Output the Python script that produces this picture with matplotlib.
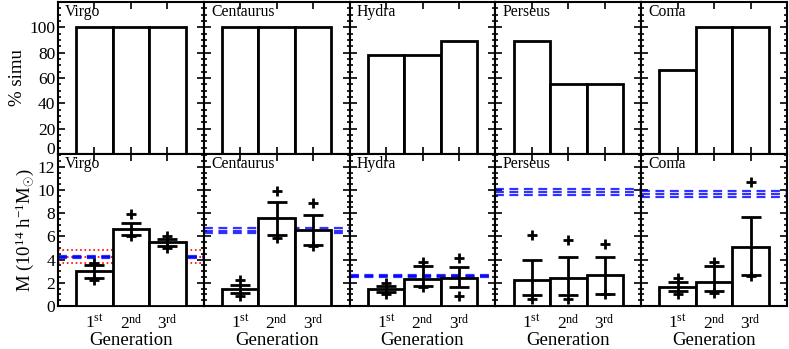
import matplotlib
matplotlib.use("Agg")
import matplotlib.pyplot as plt
from matplotlib.ticker import MultipleLocator
import numpy as np

plt.rcParams["font.family"] = ["Liberation Serif", "DejaVu Serif"]
plt.rcParams["mathtext.fontset"] = "custom"
plt.rcParams["mathtext.rm"] = "Liberation Serif"
plt.rcParams["mathtext.it"] = "Liberation Serif:italic"

CLUSTERS = ["Virgo", "Centaurus", "Hydra", "Perseus", "Coma"]
GENS = [1, 2, 3]
GEN_LABELS = ["1$^{\\rm st}$", "2$^{\\rm nd}$", "3$^{\\rm rd}$"]
PCT_TICKS = [0, 20, 40, 60, 80, 100]

# percentage of simulations (top row)
PCT = [
    [100, 100, 100],
    [100, 100, 100],
    [77.8, 77.8, 88.9],
    [88.9, 55.6, 55.6],
    [66.7, 100, 100],
]

# mean mass per generation (bottom row), 1e14 h^-1 Msun
MASS = [
    [3.0, 6.6, 5.55],
    [1.45, 7.6, 6.55],
    [1.47, 2.37, 2.4],
    [2.23, 2.4, 2.66],
    [1.68, 2.08, 5.12],
]
# error bar low / high
ERR_LO = [
    [2.4, 6.1, 5.2],
    [1.1, 6.1, 5.25],
    [1.2, 1.75, 1.6],
    [0.95, 0.95, 1.07],
    [1.3, 1.3, 2.7],
]
ERR_HI = [
    [3.55, 7.15, 5.75],
    [1.85, 8.95, 7.85],
    [1.75, 3.45, 3.4],
    [3.95, 4.25, 4.25],
    [2.1, 3.45, 7.65],
]
# min / max markers
MIN_PT = [
    [2.25, 6.0, 5.0],
    [0.85, 5.9, 5.2],
    [1.0, 1.6, 0.9],
    [0.6, 0.6, 1.05],
    [1.05, 1.1, 2.6],
]
MAX_PT = [
    [3.7, 7.95, 6.0],
    [2.2, 9.9, 8.85],
    [1.95, 3.8, 4.1],
    [6.15, 5.65, 5.35],
    [2.45, 3.8, 10.65],
]

# observed mass (blue dashed) and its band
OBS_MASS = [4.2, 6.48, 2.6, 9.8, 9.65]
OBS_ERR = [0.1, 0.23, 0.08, 0.25, 0.27]
# Virgo red dotted estimate
RED_LINES = [4.86, 4.2, 3.67]

fig = plt.figure(figsize=(7.89, 3.49), dpi=100)
left, width = 58 / 789, 145.8 / 789
y_mid, y_top, y_bot = 1 - 154 / 349, 1 - 2 / 349, 1 - 306 / 349
FS = 12

for i, name in enumerate(CLUSTERS):
    x0 = left + i * width
    ax_t = fig.add_axes([x0, y_mid, width, y_top - y_mid])
    ax_b = fig.add_axes([x0, y_bot, width, y_mid - y_bot])

    ax_t.bar(GENS, PCT[i], width=1.0, facecolor="white",
             edgecolor="black", linewidth=2)
    ax_t.set_xlim(0, 4)
    ax_t.set_ylim(0, 120)
    ax_t.set_yticks(PCT_TICKS)
    ax_t.yaxis.set_minor_locator(MultipleLocator(5))
    ax_t.set_xticks(GENS)
    ax_t.set_xticklabels([])
    ax_t.text(0.05, 0.99, name, transform=ax_t.transAxes, ha="left",
              va="top", fontsize=11.3)

    if i == 0:
        for y in RED_LINES:
            ax_b.axhline(y, color="red", ls=":", lw=1.2)
    for off in (-OBS_ERR[i], 0, OBS_ERR[i]):
        ax_b.axhline(OBS_MASS[i] + off, color="blue", ls=(0, (4, 2.5)),
                     lw=1.6, alpha=0.8)

    ax_b.bar(GENS, MASS[i], width=1.0, facecolor="white",
             edgecolor="black", linewidth=2, zorder=3)
    mid = np.array(MASS[i])
    yerr = [mid - np.array(ERR_LO[i]), np.array(ERR_HI[i]) - mid]
    ax_b.errorbar(GENS, mid, yerr=yerr, fmt="none", ecolor="black",
                  elinewidth=2, capsize=7, capthick=2, zorder=4)
    ax_b.plot(GENS, MIN_PT[i], "k+", ms=6.5, mew=2, zorder=5)
    ax_b.plot(GENS, MAX_PT[i], "k+", ms=6.5, mew=2, zorder=5)

    ax_b.set_xlim(0, 4)
    ax_b.set_ylim(0, 13.1)
    ax_b.yaxis.set_major_locator(MultipleLocator(2))
    ax_b.yaxis.set_minor_locator(MultipleLocator(0.5))
    ax_b.set_xticks(GENS)
    ax_b.set_xticklabels(GEN_LABELS, fontsize=FS + 1)
    ax_b.set_xlabel("Generation", fontsize=FS + 1.5, labelpad=-1)
    ax_b.text(0.05, 0.99, name, transform=ax_b.transAxes, ha="left",
              va="top", fontsize=11.3)

    for ax in (ax_t, ax_b):
        ax.tick_params(which="both", direction="in", top=True, right=True,
                       labelsize=FS + 0.5, width=1.2)
        ax.tick_params(which="major", length=5)
        ax.tick_params(which="minor", length=2.5)
        ax.tick_params(axis="x", which="minor", bottom=False, top=False)
        ax.tick_params(axis="x", pad=6)
        ax.tick_params(axis="y", pad=2)
        for s in ax.spines.values():
            s.set_linewidth(1.5)
        if i > 0:
            ax.set_yticklabels([])

    if i == 0:
        ax_t.set_ylabel("% simu", fontsize=FS + 1.5, labelpad=2)
        ax_b.set_ylabel("M (10$^{14}$ h$^{-1}$M$_{\\odot}$)", fontsize=FS + 1.5,
                        labelpad=1)
        # lift the bottom "0" of the top panel clear of the "12" below it
        ax_t.get_yticklabels()[0].set_verticalalignment("baseline")

fig.savefig("out.png", dpi=100)
